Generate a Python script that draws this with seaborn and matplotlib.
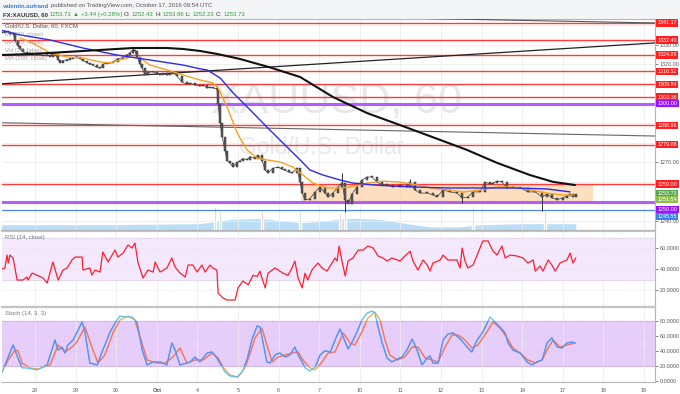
import matplotlib
matplotlib.use("Agg")
import matplotlib.pyplot as plt
from matplotlib.patches import Rectangle
import seaborn as sns

# ---------------- data ----------------
# time axis: trading-day index, 1 = Sep 28 ... 16 = Oct 19
day_ticks = list(range(1, 17))
day_labels = ['28', '29', '30', 'Oct', '4', '5', '6', '7', '10', '11', '12', '13', '14', '17', '18', '19']

price_t = [0.19, 0.26, 0.34, 0.38, 0.46, 0.51, 0.58, 0.63, 0.70, 0.80, 0.88, 0.95, 1.05, 1.12, 1.20,
           1.30, 1.37, 1.44, 1.49, 1.57, 1.62, 1.69, 1.79, 1.86, 1.94, 2.03, 2.11, 2.18, 2.28, 2.35,
           2.43, 2.53, 2.60, 2.67, 2.77, 2.85, 2.92, 3.04, 3.17, 3.27, 3.34, 3.41, 3.46, 3.51, 3.59,
           3.64, 3.71, 3.78, 3.91, 4.00, 4.08, 4.15, 4.25, 4.33, 4.40, 4.50, 4.62, 4.74, 4.82, 4.94,
           5.06, 5.14, 5.24, 5.31, 5.38, 5.48, 5.51, 5.56, 5.61, 5.68, 5.73, 5.80, 5.88, 5.98, 6.05,
           6.12, 6.22, 6.30, 6.42, 6.49, 6.59, 6.67, 6.74, 6.86, 6.99, 7.08, 7.16, 7.26, 7.33, 7.45,
           7.53, 7.58, 7.65, 7.77, 7.90, 8.02, 8.14, 8.22, 8.34, 8.46, 8.56, 8.64, 8.71, 8.81, 8.93,
           9.05, 9.18, 9.30, 9.42, 9.55, 9.67, 9.82, 9.99, 10.16, 10.24, 10.36, 10.48, 10.66, 10.80,
           10.90, 11.05, 11.22, 11.39, 11.52, 11.66, 11.79, 11.96, 12.08, 12.21, 12.28, 12.38, 12.50,
           12.63, 12.77, 12.95, 13.14, 13.32, 13.49, 13.61, 13.73, 13.86, 14.00, 14.10, 14.18, 14.25,
           14.32]
price_close = [1336.0, 1337.0, 1336.5, 1335.5, 1336.0, 1332.0, 1329.5, 1328.0, 1326.5, 1325.5, 1326.0,
               1325.0, 1325.8, 1325.0, 1324.5, 1325.0, 1324.0, 1326.0, 1325.5, 1322.5, 1321.0, 1322.0,
               1322.5, 1323.0, 1323.5, 1324.0, 1323.0, 1322.0, 1321.0, 1320.0, 1319.5, 1318.5, 1318.0,
               1320.0, 1321.0, 1320.5, 1321.5, 1323.0, 1323.5, 1325.0, 1326.0, 1327.5, 1327.0, 1324.0,
               1320.0, 1318.0, 1314.7, 1316.0, 1316.3, 1315.0, 1314.7, 1315.5, 1314.6, 1315.0, 1316.0,
               1314.0, 1311.0, 1310.0, 1310.5, 1309.5, 1309.0, 1309.5, 1308.0, 1308.5, 1308.0, 1307.5,
               1300.0, 1290.0, 1283.0, 1276.0, 1271.0, 1269.7, 1267.7, 1270.0, 1271.0, 1272.0, 1271.5,
               1273.0, 1272.0, 1273.8, 1271.0, 1266.0, 1264.6, 1267.0, 1267.7, 1266.5, 1266.0, 1265.0,
               1264.6, 1267.0, 1260.0, 1254.4, 1251.0, 1251.5, 1255.0, 1257.5, 1254.4, 1252.4, 1254.4,
               1257.5, 1259.5, 1251.0, 1249.0, 1254.0, 1257.5, 1261.0, 1262.6, 1262.6, 1260.0, 1258.5,
               1258.5, 1257.5, 1258.5, 1257.5, 1260.0, 1256.0, 1254.4, 1254.4, 1253.5, 1252.4, 1256.0,
               1255.0, 1254.4, 1252.0, 1252.4, 1255.0, 1255.0, 1260.0, 1259.0, 1259.5, 1260.5, 1260.0,
               1256.8, 1257.5, 1257.0, 1255.0, 1255.0, 1252.4, 1254.0, 1252.0, 1251.0, 1252.0, 1253.0,
               1254.0, 1252.4, 1253.73]

wick_t = [3.41, 8.56, 8.64, 10.24, 11.52, 13.49]
wick_lo = [1326.0, 1257.0, 1244.7, 1258.0, 1249.3, 1245.0]
wick_hi = [1328.6, 1264.5, 1252.0, 1261.5, 1253.0, 1253.0]

ma200_t = [0.14, 0.95, 1.79, 2.60, 3.41, 4.25, 4.65, 5.06, 5.48, 6.05, 6.79, 7.53, 8.34, 9.18, 9.99,
           10.98, 11.64, 12.38, 13.19, 13.76, 14.30]
ma200_v = [1324.8, 1325.4, 1326.4, 1327.4, 1328.4, 1328.4, 1327.9, 1326.9, 1325.4, 1322.8, 1318.5,
           1313.6, 1303.4, 1295.2, 1289.1, 1281.5, 1276.4, 1269.8, 1263.6, 1260.1, 1258.5]

ma50_t = [0.14, 0.63, 1.37, 2.18, 3.02, 3.83, 4.65, 5.06, 5.24, 5.56, 5.88, 6.30, 6.71, 7.11, 7.53,
          7.77, 8.09, 8.51, 8.83, 9.50, 10.31, 11.15, 11.96, 12.77, 13.61, 14.18]
ma50_v = [1337.6, 1335.1, 1332.5, 1328.4, 1324.8, 1322.3, 1319.7, 1317.8, 1317.2, 1313.1, 1305.5,
          1296.8, 1288.1, 1279.9, 1271.3, 1266.2, 1263.6, 1261.1, 1259.5, 1258.3, 1257.5, 1257.0,
          1257.0, 1257.0, 1256.5, 1255.0]

ma20_t = [0.63, 0.88, 1.12, 1.37, 1.79, 2.18, 2.60, 2.85, 3.09, 3.34, 3.59, 3.83, 4.25, 4.65, 5.06,
          5.38, 5.51, 5.73, 5.98, 6.22, 6.47, 6.71, 7.03, 7.35, 7.60, 7.85, 8.19, 8.51, 8.76, 9.18,
          9.57, 9.99, 10.41, 10.73, 11.15, 11.54, 11.96, 12.38, 12.77, 13.19, 13.61, 14.00, 14.25]
ma20_v = [1333.5, 1331.5, 1328.9, 1325.9, 1323.8, 1323.3, 1321.3, 1320.8, 1322.3, 1323.8, 1323.3,
          1319.7, 1317.2, 1314.6, 1312.1, 1310.6, 1308.0, 1298.3, 1285.0, 1276.4, 1272.3, 1271.3,
          1270.3, 1267.7, 1263.6, 1259.5, 1257.0, 1257.0, 1257.5, 1259.5, 1260.5, 1260.0, 1258.5,
          1257.0, 1256.0, 1254.9, 1256.0, 1257.5, 1257.5, 1256.0, 1254.4, 1253.4, 1253.4]

vol_t = [0.14, 2.60, 5.06, 5.43, 5.80, 6.54, 7.03, 7.53, 8.02, 8.64, 9.00, 9.50, 9.99, 10.73, 11.47,
         11.96, 12.95, 13.93, 14.32]
vol_v = [2.5, 2.5, 3.0, 4.0, 5.0, 5.5, 4.5, 3.5, 4.0, 5.5, 5.5, 5.0, 3.5, 1.5, 1.5, 2.5, 3.0, 3.0, 3.0]
vol_spike_t = [5.43, 5.56, 6.59, 7.53, 8.51, 8.64, 11.79, 13.56]
vol_spike_v = [11, 9, 9, 9, 8, 11, 12, 9]

red_levels = [1341.17, 1332.40, 1324.88, 1316.52, 1309.84, 1303.36, 1288.96, 1279.08, 1259.00]
purple_levels = [1300.00, 1250.00]
blue_levels = [1245.55]
last_price = 1253.73
ma_tag = 1251.54
price_ticks = list(range(1240, 1341, 10))
shown_ticks = [1240, 1270, 1320, 1330]

trend_up_t, trend_up_v = [0.14, 16.27], [1310.1, 1331.0]
trend_top_t, trend_top_v = [8.27, 16.27], [1344.4, 1341.17]
trend_mid_t, trend_mid_v = [0.14, 16.27], [1290.3, 1283.5]
range_t, range_lo, range_hi = [7.55, 14.74], 1250.0, 1259.0

rsi_t = [0.19, 0.26, 0.31, 0.34, 0.38, 0.46, 0.56, 0.70, 0.80, 0.83, 0.93, 1.20, 1.30, 1.44, 1.57,
         1.69, 1.79, 1.91, 1.99, 2.16, 2.18, 2.35, 2.40, 2.48, 2.60, 2.67, 2.80, 2.97, 3.04, 3.17,
         3.29, 3.39, 3.46, 3.54, 3.66, 3.78, 3.91, 3.96, 4.08, 4.25, 4.37, 4.45, 4.57, 4.70, 4.77,
         4.89, 4.99, 5.11, 5.19, 5.31, 5.38, 5.48, 5.51, 5.63, 5.73, 5.80, 5.93, 6.00, 6.12, 6.25,
         6.37, 6.47, 6.54, 6.59, 6.67, 6.74, 6.91, 7.11, 7.23, 7.33, 7.40, 7.48, 7.58, 7.65, 7.72,
         7.82, 7.97, 8.07, 8.19, 8.27, 8.39, 8.44, 8.49, 8.56, 8.64, 8.71, 8.83, 8.96, 9.08, 9.20,
         9.33, 9.45, 9.57, 9.67, 9.79, 9.92, 9.99, 10.06, 10.24, 10.31, 10.43, 10.56, 10.66, 10.73,
         10.80, 10.98, 11.05, 11.17, 11.39, 11.47, 11.52, 11.59, 11.66, 11.79, 11.91, 12.03, 12.16,
         12.28, 12.38, 12.50, 12.58, 12.70, 12.87, 13.02, 13.14, 13.27, 13.32, 13.44, 13.51, 13.64,
         13.73, 13.81, 13.93, 14.10, 14.18, 14.25, 14.32]
rsi_v = [40.0, 41.0, 53.3, 45.7, 53.3, 50.5, 29.5, 29.5, 32.4, 29.5, 36.2, 31.4, 26.7, 46.7, 29.5,
         39.0, 41.0, 48.6, 51.4, 51.4, 39.0, 41.0, 34.3, 39.0, 37.1, 56.2, 46.7, 58.1, 51.4, 55.2,
         62.9, 60.0, 64.8, 45.7, 31.4, 39.0, 37.1, 46.7, 37.1, 41.0, 50.5, 41.9, 36.2, 32.4, 43.8,
         43.8, 37.1, 43.8, 37.1, 43.8, 41.0, 39.0, 17.1, 12.4, 10.5, 10.5, 10.5, 22.0, 28.6, 25.0,
         34.0, 33.0, 38.0, 31.4, 22.0, 36.0, 41.0, 36.0, 34.0, 41.0, 47.6, 31.4, 22.0, 36.0, 29.5,
         39.0, 45.7, 41.0, 38.0, 42.9, 50.5, 47.6, 61.9, 47.6, 33.3, 47.6, 50.5, 58.0, 58.0, 61.9,
         60.0, 52.4, 50.5, 47.6, 50.5, 48.6, 47.6, 50.5, 57.0, 47.6, 39.0, 48.6, 43.8, 38.0,
         45.7, 48.6, 53.3, 48.6, 48.6, 41.0, 60.0, 47.6, 41.0, 43.8, 55.2, 66.7, 66.7,
         57.0, 53.3, 61.9, 50.5, 53.3, 52.4, 50.5, 45.7, 48.6, 38.0, 42.9, 38.0, 48.6,
         43.8, 38.0, 45.7, 48.6, 55.2, 45.7, 50.5]

stk_t = [0.19, 0.24, 0.46, 0.58, 0.68, 0.80, 1.05, 1.30, 1.49, 1.57, 1.67, 1.74, 1.81, 1.94, 2.16,
         2.23, 2.35, 2.53, 2.67, 2.85, 2.97, 3.09, 3.22, 3.39, 3.51, 3.64, 3.76, 3.91, 4.08, 4.25,
         4.37, 4.45, 4.57, 4.82, 4.94, 5.06, 5.24, 5.36, 5.48, 5.61, 5.68, 5.80, 5.98, 6.10, 6.22,
         6.34, 6.47, 6.54, 6.62, 6.71, 6.79, 6.91, 7.03, 7.16, 7.28, 7.40, 7.48, 7.58, 7.65, 7.77,
         7.90, 8.02, 8.14, 8.27, 8.39, 8.51, 8.59, 8.71, 8.81, 8.93, 9.05, 9.18, 9.30, 9.37, 9.45,
         9.55, 9.67, 9.79, 9.92, 10.04, 10.16, 10.29, 10.41, 10.53, 10.66, 10.73, 10.80, 10.93,
         11.05, 11.17, 11.30, 11.42, 11.54, 11.66, 11.76, 11.89, 12.03, 12.21, 12.28, 12.45, 12.58,
         12.65, 12.77, 12.95, 13.12, 13.24, 13.36, 13.49, 13.61, 13.73, 13.86, 13.98, 14.10, 14.23,
         14.30]
stk_v = [11.5, 18.3, 47.8, 30.3, 17.0, 17.0, 14.3, 21.0, 54.5, 41.0, 45.0, 37.0, 47.8, 54.5, 78.7,
         65.2, 23.6, 21.0, 41.0, 65.2, 77.3, 86.7, 85.4, 85.4, 78.7, 41.0, 21.0, 25.0, 25.0, 21.0,
         50.5, 41.0, 21.0, 25.0, 31.7, 25.0, 37.0, 38.4, 30.3, 18.3, 11.5, 6.2, 4.8, 11.5, 27.7,
         54.5, 73.3, 72.0, 50.5, 25.0, 23.6, 34.4, 37.0, 31.7, 34.4, 45.0, 34.4, 25.0, 17.0, 13.0,
         18.0, 34.4, 40.0, 38.4, 54.5, 69.3, 58.5, 42.4, 51.8, 65.2, 81.3, 90.7, 93.4, 90.7, 72.0,
         50.5, 30.3, 25.0, 29.0, 31.7, 41.0, 55.8, 41.0, 21.0, 30.3, 33.0, 23.6, 23.6,
         54.5, 62.5, 63.9, 58.5, 51.8, 43.8, 38.4, 54.5, 65.2, 85.4, 81.3, 72.0, 63.9,
         50.5, 41.0, 37.0, 25.0, 21.0, 25.0, 27.7, 50.5, 57.2, 45.0, 43.8, 50.5, 51.8,
         50.5]

std_t = [0.19, 0.34, 0.51, 0.58, 0.68, 0.88, 1.07, 1.37, 1.57, 1.74, 1.91, 2.03, 2.23, 2.40, 2.55,
         2.72, 2.92, 3.09, 3.29, 3.46, 3.59, 3.76, 4.00, 4.20, 4.40, 4.57, 4.74, 4.94, 5.14, 5.36,
         5.51, 5.63, 5.80, 6.00, 6.17, 6.30, 6.42, 6.59, 6.71, 6.84, 6.99, 7.16, 7.33, 7.48, 7.60,
         7.77, 7.90, 8.07, 8.22, 8.39, 8.59, 8.76, 8.88, 9.05, 9.20, 9.37, 9.50, 9.62, 9.74, 9.92,
         10.11, 10.29, 10.43, 10.61, 10.78, 10.93, 11.10, 11.27, 11.42, 11.59, 11.76, 11.91, 12.13,
         12.28, 12.45, 12.63, 12.77, 12.95, 13.14, 13.32, 13.49, 13.64, 13.76, 13.93, 14.10, 14.30]
std_v = [11.5, 27.7, 41.0, 40.0, 23.6, 17.0, 15.6, 21.0, 47.8, 38.4, 45.0, 51.8, 72.0, 45.0, 23.6,
         34.4, 63.9, 81.3, 86.7, 81.3, 58.5, 27.7, 23.6, 23.6, 31.7, 43.8, 23.6, 27.7, 27.7, 37.0,
         30.3, 18.3, 7.5, 4.8, 17.0, 37.0, 57.2, 70.6, 47.8, 25.0, 31.7, 34.4, 37.0, 38.4, 27.7,
         17.0, 14.3, 25.0, 37.0, 38.4, 63.9, 50.5, 47.8, 65.2, 84.0, 92.0, 81.3, 54.5, 34.4, 27.7,
         31.7, 45.0, 45.0, 30.3, 27.7, 25.0, 45.0, 61.2, 61.2, 54.5, 43.8, 47.8, 65.2,
         78.7, 70.6, 57.2, 43.8, 37.0, 27.7, 23.6, 27.7, 43.8, 54.5, 45.0, 47.8, 50.5]

# ---------------- style ----------------
sns.set_theme(style="white")
plt.rcParams['font.family'] = ['Liberation Sans', 'DejaVu Sans']

W, H = 680, 394
fig = plt.figure(figsize=(W / 100, H / 100), dpi=100)


def px_box(x0, y0, x1, y1):
    return [x0 / W, 1 - y1 / H, (x1 - x0) / W, (y1 - y0) / H]


ax = fig.add_axes(px_box(2, 19, 655, 230))
ax_rsi = fig.add_axes(px_box(2, 231, 655, 306), sharex=ax)
ax_st = fig.add_axes(px_box(2, 307, 655, 382), sharex=ax)

GRID = '#ececec'
TICK = '#555555'
FS = 3.9

# header strip
fig.patches.append(Rectangle((0, 1 - 19 / H), 1, 19 / H, transform=fig.transFigure,
                             facecolor='#f4f5f7', edgecolor='none', zorder=0))


def chain(x, y, parts, size=4.3):
    prev = fig.text(x, y, parts[0][0], color=parts[0][1], fontsize=size,
                    fontweight=parts[0][2], va='baseline')
    for s, c, w in parts[1:]:
        prev = ax.annotate(s, xy=(1, 0), xycoords=prev, xytext=(1.2, 0), textcoords='offset points',
                           color=c, fontsize=size, fontweight=w, va='bottom', annotation_clip=False)


chain(3 / W, 1 - 7.5 / H, [('valentin.aufrand', '#3d7fc9', 'bold'),
                            ('published on TradingView.com, October 17, 2016 09:54 UTC', '#555555', 'normal')])
GREEN = '#3a9a3a'
chain(3 / W, 1 - 16 / H, [('FX:XAUUSD, 60', '#333333', 'bold'), ('1253.73', GREEN, 'normal'),
                           ('\u25b2', GREEN, 'normal'), ('+3.44 (+0.28%)', GREEN, 'normal'),
                           ('O:', '#333333', 'normal'), ('1252.43', GREEN, 'normal'),
                           ('H:', '#333333', 'normal'), ('1253.96', GREEN, 'normal'),
                           ('L:', '#333333', 'normal'), ('1252.23', GREEN, 'normal'),
                           ('C:', '#333333', 'normal'), ('1253.73', GREEN, 'normal')])

# ---------------- main price panel ----------------
ax.set_xlim(0.187, 16.27)
ax.set_ylim(1235.56, 1343.2)

ax_v = ax.twinx()
ax_v.set_ylim(0, 100)
ax_v.set_yticks([])
ax.set_zorder(2)
ax_v.set_zorder(1)
ax.patch.set_visible(False)
ax_v.fill_between(vol_t, 0, vol_v, color='#9fd0f3', alpha=0.7, linewidth=0)
ax_v.bar(vol_spike_t, vol_spike_v, width=0.05,
         color=['#f4b7b7', '#b9dfb9', '#f4b7b7', '#b9dfb9', '#f4b7b7', '#b9dfb9', '#b9dfb9', '#f4b7b7'])
for s in ax_v.spines.values():
    s.set_visible(False)

ax.text(0.513, 0.611, 'XAUUSD, 60', transform=ax.transAxes, fontsize=31, color='#e8e8e8',
        ha='center', va='center', zorder=0)
ax.text(0.49, 0.389, 'Gold/U.S. Dollar', transform=ax.transAxes, fontsize=16.5, color='#e8e8e8',
        ha='center', va='center', zorder=0)

for d in day_ticks:
    ax.axvline(d, color=GRID, lw=0.6, zorder=0)
ax.set_yticks(price_ticks)
ax.set_yticklabels([f'{v:.2f}' if v in shown_ticks else '' for v in price_ticks])
ax.grid(axis='y', color=GRID, lw=0.6)

ax.fill_between(range_t, range_lo, range_hi, color='#fdd3a8', alpha=0.75, linewidth=0, zorder=1)

for lv in red_levels:
    ax.axhline(lv, color='#ff3b3b', lw=1.0, zorder=2)
for lv in purple_levels:
    ax.axhline(lv, color='#b35cff', lw=2.2, zorder=2)
for lv in blue_levels:
    ax.axhline(lv, color='#4f86f0', lw=0.9, zorder=2)

sns.lineplot(x=trend_up_t, y=trend_up_v, ax=ax, color='#222222', lw=0.9, zorder=3)
sns.lineplot(x=trend_top_t, y=trend_top_v, ax=ax, color='#555555', lw=0.8, zorder=3)
sns.lineplot(x=trend_mid_t, y=trend_mid_v, ax=ax, color='#666666', lw=0.8, zorder=3)

# candles: open = previous close; a thin close line keeps the hourly bars looking continuous
opens = [price_close[0]] + price_close[:-1]
bottoms = [min(o, c) for o, c in zip(opens, price_close)]
heights = [max(abs(c - o), 0.35) for o, c in zip(opens, price_close)]
sns.lineplot(x=price_t, y=price_close, ax=ax, color='#3a3a3a', lw=0.5, zorder=4)
ax.vlines(wick_t, wick_lo, wick_hi, color='#333333', lw=0.7, zorder=4)
ax.bar(price_t, heights, bottom=bottoms, width=0.04, color='#5a5a5a', edgecolor='#333333',
       linewidth=0.35, zorder=4)

sns.lineplot(x=ma20_t, y=ma20_v, ax=ax, color='#f7a023', lw=1.0, zorder=5)
sns.lineplot(x=ma50_t, y=ma50_v, ax=ax, color='#2b2bef', lw=1.0, zorder=5)
sns.lineplot(x=ma200_t, y=ma200_v, ax=ax, color='#111111', lw=1.5, zorder=5)

legend_rows = ['Gold/U.S. Dollar, 60, FXCM', 'MA (20, close)', 'MA (50, close)', 'Vol (20, false)',
               'MA (200, close)']
for i, s in enumerate(legend_rows):
    ax.text(0.005, 0.966 - i * 0.038, s, transform=ax.transAxes, fontsize=4.3,
            color='#444444' if i == 0 else '#888888', alpha=0.9 if i == 0 else 0.75, va='center', zorder=6)

ax.yaxis.tick_right()
ax.tick_params(axis='y', labelsize=FS, colors=TICK, length=2, width=0.5, pad=1.5)
ax.tick_params(axis='x', bottom=False, labelbottom=False)
ax.set_xlabel('')
ax.set_ylabel('')

# price tags on the right scale (some nudged down so they don't collide, as TradingView does)
ytr = ax.get_yaxis_transform()
tags = [(lv, '#ff1f1f', 0) for lv in red_levels] + [(1300.00, '#9a12ff', 0), (1250.00, '#9a12ff', -5.8)] + \
       [(lv, '#3a7ff0', -4.6) for lv in blue_levels] + [(last_price, '#5aa84c', 0.6), (ma_tag, '#8cbf4a', -0.6)]
for lv, c, dy in tags:
    ax.annotate(f'{lv:.2f}', xy=(1.004, lv), xycoords=ytr, xytext=(0, dy), textcoords='offset points',
                fontsize=FS, color='white', ha='left', va='center', annotation_clip=False, zorder=10,
                bbox=dict(boxstyle='square,pad=0.22', facecolor=c, edgecolor='none'))

# ---------------- RSI panel ----------------
ax_rsi.set_ylim(4.8, 76.2)
ax_rsi.axhspan(30, 70, color='#f4e8fc', zorder=0)
for lv in [70, 30]:
    ax_rsi.axhline(lv, color='#c9c0d0', lw=0.5, ls=(0, (1, 1)), zorder=1)
for lv in [60, 40, 20]:
    ax_rsi.axhline(lv, color='#e6e1ea', lw=0.5, ls=(0, (1, 1)), zorder=1)
for d in day_ticks:
    ax_rsi.axvline(d, color=GRID, lw=0.6, zorder=0)
sns.lineplot(x=rsi_t, y=rsi_v, ax=ax_rsi, color='#ff1f2f', lw=0.9, zorder=3)
ax_rsi.text(0.005, 0.91, 'RSI (14, close)', transform=ax_rsi.transAxes, fontsize=4.3, color='#777777',
            va='center')
ax_rsi.set_yticks([20, 40, 60])
ax_rsi.yaxis.set_major_formatter(matplotlib.ticker.FormatStrFormatter('%.4f'))
ax_rsi.yaxis.tick_right()
ax_rsi.tick_params(axis='y', labelsize=FS, colors=TICK, length=2, width=0.5, pad=1.5)
ax_rsi.tick_params(axis='x', bottom=False, labelbottom=False)
ax_rsi.set_ylabel('')

# ---------------- Stoch panel ----------------
ax_st.set_ylim(-1.9, 98.8)
ax_st.axhspan(20, 80, color='#e6cdfa', zorder=0)
for lv in [80, 20]:
    ax_st.axhline(lv, color='#a99bb5', lw=0.5, ls=(0, (1, 1)), zorder=1)
for lv in [60, 40]:
    ax_st.axhline(lv, color='#dccbe8', lw=0.5, ls=(0, (1, 1)), zorder=1)
for d in day_ticks:
    ax_st.axvline(d, color=GRID, lw=0.6, zorder=0)

band = Rectangle((0, 20), 20, 60, transform=ax_st.transData)
for t, v, out_c, in_c in [(std_t, std_v, '#f9a53c', '#f07474'), (stk_t, stk_v, '#52c0f5', '#5d8ff5')]:
    sns.lineplot(x=t, y=v, ax=ax_st, color=out_c, lw=0.9, zorder=3)
    sns.lineplot(x=t, y=v, ax=ax_st, color=in_c, lw=0.9, zorder=4)
    ax_st.lines[-1].set_clip_path(band)

ax_st.text(0.005, 0.91, 'Stoch (14, 3, 3)', transform=ax_st.transAxes, fontsize=4.3, color='#777777',
           va='center')
ax_st.set_yticks([0, 20, 40, 60, 80])
ax_st.yaxis.set_major_formatter(matplotlib.ticker.FormatStrFormatter('%.4f'))
ax_st.yaxis.tick_right()
ax_st.tick_params(axis='y', labelsize=FS, colors=TICK, length=2, width=0.5, pad=1.5)
ax_st.set_xticks(day_ticks)
ax_st.set_xticklabels(day_labels)
ax_st.tick_params(axis='x', labelsize=FS, colors=TICK, length=2, width=0.5, pad=2)
for lab in ax_st.get_xticklabels():
    if lab.get_text() == 'Oct':
        lab.set_fontweight('bold')
ax_st.set_xlabel('')
ax_st.set_ylabel('')

for a in (ax, ax_rsi, ax_st):
    for name, s in a.spines.items():
        s.set_color('#b5b5b5')
        s.set_linewidth(0.8)
    a.spines['left'].set_visible(False)
for a in (ax_rsi, ax_st):
    a.spines['top'].set_linewidth(1.6)
    a.spines['top'].set_color('#c4c4c4')

fig.savefig('out.png', dpi=100, facecolor='white')
